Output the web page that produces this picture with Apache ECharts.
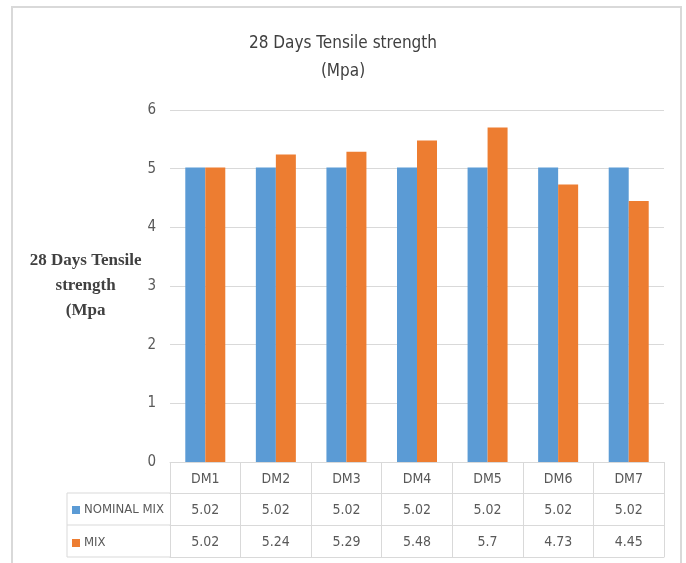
<!DOCTYPE html>
<html>
<head>
<meta charset="utf-8">
<script src="https://cdn.jsdelivr.net/npm/echarts@6/dist/echarts.min.js"></script>
<style>
  html, body { margin: 0; padding: 0; background: #fff; }
  #chart { width: 686px; height: 563px; }
</style>
</head>
<body>
<div id="chart"></div>
<script>
// Mix designs and their 28-day tensile strength (MPa)
const categories = ['DM1', 'DM2', 'DM3', 'DM4', 'DM5', 'DM6', 'DM7'];
const nominalMix = [5.02, 5.02, 5.02, 5.02, 5.02, 5.02, 5.02];
const mix = [5.02, 5.24, 5.29, 5.48, 5.7, 4.73, 4.45];
const seriesNames = ['NOMINAL MIX', 'MIX'];
const yTicks = { min: 0, max: 6, interval: 1 };

const FONT = '"DejaVu Sans Condensed", "Liberation Sans", sans-serif';
const LINE = '#d9d9d9';
const TEXT = '#595959';

// Plot area and data-table geometry
const plot = { left: 170, right: 22, top: 110, bottom: 101 };
const rowH = [31, 32, 32];
const tableLeft = 67;
const axisY = 563 - plot.bottom;

// One category axis per table row: header (categories), then each series' values
function rowAxis(data, offset, tickLen, showLabel) {
  return {
    type: 'category',
    gridIndex: 0,
    position: 'bottom',
    offset: offset,
    data: data,
    axisLine: { show: true, lineStyle: { color: LINE, width: 1 } },
    axisTick: { show: tickLen > 0, length: tickLen, interval: 0, lineStyle: { color: LINE } },
    axisLabel: {
      show: showLabel, interval: 0, margin: 9, color: TEXT,
      fontFamily: FONT, fontSize: 14, lineHeight: 16
    },
    splitLine: { show: false }
  };
}

const chart = echarts.init(document.getElementById('chart'), null, { renderer: 'canvas' });

const y0 = axisY + rowH[0];
const y1 = y0 + rowH[1];
const y2 = y1 + rowH[2];

chart.setOption({
  backgroundColor: '#fff',
  animation: false,
  title: {
    text: '28 Days Tensile strength\n(Mpa)',
    left: 'center',
    top: 25,
    textStyle: { fontFamily: FONT, fontSize: 17, fontWeight: 'normal', color: '#404040', lineHeight: 28 }
  },
  legend: {
    orient: 'vertical',
    left: tableLeft + 5,
    top: y0 + 9,
    padding: 0,
    itemGap: 17,
    itemWidth: 8,
    itemHeight: 8,
    icon: 'rect',
    data: seriesNames,
    textStyle: { fontFamily: FONT, fontSize: 13, color: TEXT, lineHeight: 16, padding: [0, 0, 0, -1] }
  },
  grid: { left: plot.left, right: plot.right, top: plot.top, bottom: plot.bottom, containLabel: false },
  xAxis: [
    rowAxis(categories, 0, rowH[0], true),
    rowAxis(nominalMix.map(String), rowH[0], rowH[1], true),
    rowAxis(mix.map(String), rowH[0] + rowH[1], rowH[2], true),
    rowAxis(categories, rowH[0] + rowH[1] + rowH[2], 0, false)
  ],
  yAxis: {
    type: 'value',
    min: yTicks.min, max: yTicks.max, interval: yTicks.interval,
    axisLine: { show: false },
    axisTick: { show: false },
    axisLabel: { color: TEXT, fontFamily: FONT, fontSize: 15, margin: 14 },
    splitLine: { lineStyle: { color: LINE, width: 1 } },
    name: '28 Days Tensile\nstrength\n(Mpa',
    nameLocation: 'middle',
    nameRotate: 0,
    nameGap: 77,
    nameTextStyle: {
      fontFamily: '"Liberation Serif", "DejaVu Serif", serif',
      fontWeight: 'bold', fontSize: 17, lineHeight: 25, color: '#404040',
      align: 'center', verticalAlign: 'middle'
    }
  },
  series: [
    { name: seriesNames[0], type: 'bar', xAxisIndex: 0, data: nominalMix,
      barWidth: 20, barGap: '0%', itemStyle: { color: '#5b9bd5' } },
    { name: seriesNames[1], type: 'bar', xAxisIndex: 0, data: mix,
      barWidth: 20, barGap: '0%', itemStyle: { color: '#ed7d31' } }
  ],
  graphic: [
    // outer chart frame
    { type: 'rect', shape: { x: 12, y: 7, width: 669, height: 570 },
      style: { fill: 'none', stroke: LINE, lineWidth: 2 }, silent: true },
    // legend column of the data table
    { type: 'line', shape: { x1: tableLeft, y1: y0, x2: plot.left, y2: y0 }, style: { stroke: LINE, lineWidth: 1 } },
    { type: 'line', shape: { x1: tableLeft, y1: y1, x2: plot.left, y2: y1 }, style: { stroke: LINE, lineWidth: 1 } },
    { type: 'line', shape: { x1: tableLeft, y1: y2, x2: plot.left, y2: y2 }, style: { stroke: LINE, lineWidth: 1 } },
    { type: 'line', shape: { x1: tableLeft, y1: y0, x2: tableLeft, y2: y2 }, style: { stroke: LINE, lineWidth: 1 } }
  ]
});
</script>
</body>
</html>
